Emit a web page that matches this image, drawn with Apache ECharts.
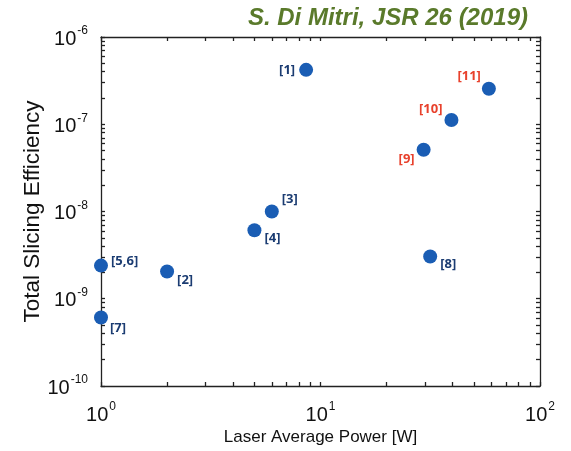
<!DOCTYPE html>
<html><head><meta charset="utf-8">
<script src="https://cdn.jsdelivr.net/npm/echarts@6/dist/echarts.min.js"></script>
<style>html,body{margin:0;padding:0;background:#fff}#c{width:571px;height:451px}</style>
</head><body><div id="c"></div>
<script>
// ---- data ----
const refLabels = ['[1]','[2]','[3]','[4]','[5,6]','[7]','[8]','[9]','[10]','[11]'];
const laserPowerW = [8.6, 2.0, 6.0, 5.0, 1.0, 1.0, 31.6, 29.5, 39.5, 58.5];
const slicingEff = [4.2e-7, 2.05e-9, 1.0e-8, 6.1e-9, 2.4e-9, 6.1e-10, 3.05e-9, 5.1e-8, 1.12e-7, 2.55e-7];
const redRefs = ['[9]','[10]','[11]'];
const xMajor = [1, 10, 100];
const yMajor = [1e-10, 1e-9, 1e-8, 1e-7, 1e-6];
const titleText = 'S. Di Mitri, JSR 26 (2019)';
const xName = 'Laser Average Power [W]';
const yName = 'Total Slicing Efficiency';

// ---- styling ----
const labelPlace = {
  '[1]': {position:'left', distance:4, offset:[0,0]},
  '[2]': {position:'right', distance:3, offset:[0,9]},
  '[3]': {position:'right', distance:3, offset:[0,-12]},
  '[4]': {position:'right', distance:3, offset:[0,8]},
  '[5,6]': {position:'right', distance:3, offset:[0,-4]},
  '[7]': {position:'right', distance:2, offset:[0,11]},
  '[8]': {position:'right', distance:3, offset:[0,8]},
  '[9]': {position:'left', distance:2, offset:[0,10]},
  '[10]': {position:'left', distance:2, offset:[0,-11]},
  '[11]': {position:'left', distance:1, offset:[0,-12]}
};
function logTicks(major){
  const out = [];
  for (let i = 0; i < major.length; i++) {
    out.push(major[i]);
    if (i < major.length - 1) for (let k = 2; k <= 9; k++) out.push(major[i]*k);
  }
  return out;
}
const xTickVals = logTicks(xMajor), yTickVals = logTicks(yMajor);
const FONT = "'Liberation Sans', Arial, sans-serif";
const fmt = v => '{b|10}{s|' + Math.round(Math.log10(v)) + '}';
const rich = {
  b:{fontSize:20, fontFamily:FONT, color:'#111', verticalAlign:'bottom'},
  s:{fontSize:12, fontFamily:FONT, color:'#111', verticalAlign:'top', padding:[0,0,12,1]}
};
const lineStyle = {color:'#222', width:1.3};
function axisCommon(extra){
  return Object.assign({type:'log', logBase:10, axisLine:{show:true, onZero:false, lineStyle},
    splitLine:{show:false}}, extra);
}
const chart = echarts.init(document.getElementById('c'));
chart.setOption({
  animation:false,
  backgroundColor:'#fff',
  title:{text:titleText, right:38, top:1,
    textStyle:{fontSize:24, fontStyle:'italic', fontWeight:'bold', color:'#5a7a2b', fontFamily:FONT}},
  grid:{left:101, right:31, top:37, bottom:64},
  xAxis:[
    axisCommon({position:'bottom', min:xMajor[0], max:xMajor[xMajor.length-1],
      name:xName, nameLocation:'middle', nameGap:43, nameMoveOverlap:false,
      nameTextStyle:{fontSize:17, color:'#111', fontFamily:FONT},
      axisTick:{inside:true, length:4, customValues:xTickVals, lineStyle},
      axisLabel:{customValues:xMajor, formatter:fmt, rich, margin:15}}),
    axisCommon({position:'top', min:xMajor[0], max:xMajor[xMajor.length-1],
      axisTick:{inside:true, length:4, customValues:xTickVals, lineStyle},
      axisLabel:{show:false}})
  ],
  yAxis:[
    axisCommon({position:'left', min:yMajor[0], max:yMajor[yMajor.length-1],
      name:yName, nameLocation:'middle', nameGap:57, nameRotate:90, nameMoveOverlap:false,
      nameTextStyle:{fontSize:22.5, color:'#111', fontFamily:FONT, verticalAlign:'bottom'},
      axisTick:{inside:true, length:4, customValues:yTickVals, lineStyle},
      axisLabel:{customValues:yMajor, formatter:fmt, rich, margin:13}}),
    axisCommon({position:'right', min:yMajor[0], max:yMajor[yMajor.length-1],
      axisTick:{inside:true, length:4, customValues:yTickVals, lineStyle},
      axisLabel:{show:false}})
  ],
  series:[{
    type:'scatter', symbolSize:14,
    itemStyle:{color:'#1a5db4', opacity:1},
    data: refLabels.map((r,i)=>({
      value:[laserPowerW[i], slicingEff[i]], name:r,
      label:Object.assign({show:true, formatter:r, fontSize:13, fontWeight:'bold',
        fontFamily:"'Open Sans'", color: redRefs.includes(r) ? '#e8412c' : '#1b3c72'}, labelPlace[r])
    }))
  }]
});
</script></body></html>
